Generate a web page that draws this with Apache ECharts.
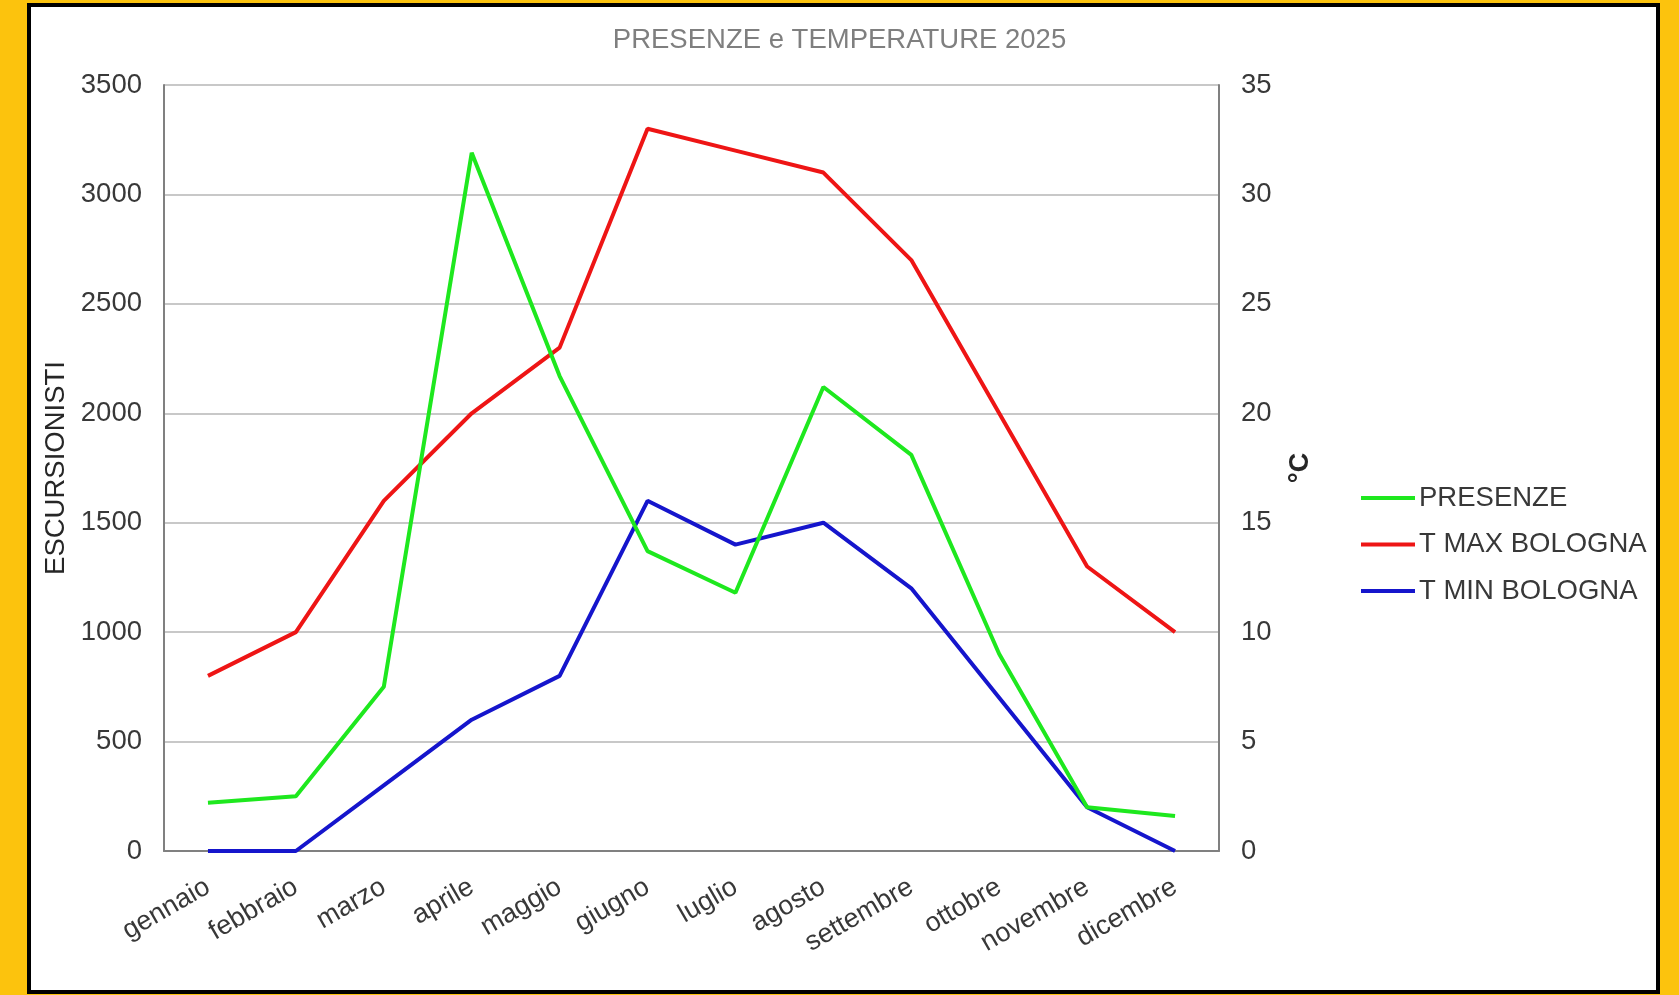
<!DOCTYPE html>
<html>
<head>
<meta charset="utf-8">
<script src="https://cdn.jsdelivr.net/npm/echarts@6/dist/echarts.min.js"></script>
<style>
  html, body { margin: 0; padding: 0; width: 1679px; height: 995px; overflow: hidden; background: #FCC30D; }
  #frame { position: absolute; left: 27px; top: 3px; width: 1625px; height: 983px; border: 4px solid #000; background: #fff; }
  #chart { position: absolute; left: 0; top: 0; width: 1679px; height: 995px; }
</style>
</head>
<body>
<div id="frame"></div>
<div id="chart"></div>
<script>
const titleText = 'PRESENZE e TEMPERATURE 2025';
const months = ['gennaio','febbraio','marzo','aprile','maggio','giugno','luglio','agosto','settembre','ottobre','novembre','dicembre'];
const presenze = [220, 250, 750, 3190, 2170, 1370, 1180, 2120, 1810, 900, 200, 160];
const tMax = [8, 10, 16, 20, 23, 33, 32, 31, 27, 20, 13, 10];
const tMin = [0, 0, 3, 6, 8, 16, 14, 15, 12, 7, 2, 0];
const seriesNames = ['PRESENZE', 'T MAX BOLOGNA', 'T MIN BOLOGNA'];
const leftAxisName = 'ESCURSIONISTI';
const rightAxisName = '°C';

const FONT = '"Liberation Sans", Arial, sans-serif';
const chart = echarts.init(document.getElementById('chart'), null, { renderer: 'canvas' });

const axisLine = { show: true, lineStyle: { color: '#808080', width: 2 } };
const gridLine = { show: true, lineStyle: { color: '#c8c8c8', width: 2 } };
const plain = v => String(v);

chart.setOption({
  animation: false,
  backgroundColor: 'transparent',
  textStyle: { fontFamily: FONT },
  title: {
    text: titleText,
    left: 'center',
    top: 21,
    textStyle: { fontFamily: FONT, fontSize: 27.5, fontWeight: 'normal', color: '#7f7f7f' }
  },
  legend: {
    orient: 'vertical',
    left: 1356,
    top: 479,
    itemWidth: 54,
    itemHeight: 4,
    itemGap: 18.5,
    icon: 'rect',
    data: seriesNames,
    textStyle: { fontFamily: FONT, fontSize: 27.5, color: '#383838', padding: [0, 0, 0, -1], lineHeight: 27 }
  },
  grid: { left: 164, right: 460, top: 85, bottom: 144, containLabel: false },
  xAxis: {
    type: 'category',
    data: months,
    boundaryGap: true,
    axisLine: axisLine,
    axisTick: { show: false },
    splitLine: { show: false },
    axisLabel: { rotate: 30, margin: 34, fontFamily: FONT, fontSize: 27, color: '#383838', interval: 0 }
  },
  yAxis: [
    {
      type: 'value',
      min: 0, max: 3500, interval: 500,
      position: 'left',
      name: leftAxisName,
      nameLocation: 'middle',
      nameRotate: 90,
      nameGap: 90,
      nameTextStyle: { fontFamily: FONT, fontSize: 27.5, color: '#262626' },
      axisLine: axisLine,
      axisTick: { show: false },
      splitLine: gridLine,
      axisLabel: { margin: 22, fontFamily: FONT, fontSize: 27.5, color: '#383838', formatter: plain }
    },
    {
      type: 'value',
      min: 0, max: 35, interval: 5,
      position: 'right',
      name: rightAxisName,
      nameLocation: 'middle',
      nameRotate: 90,
      nameGap: 68,
      nameTextStyle: { fontFamily: FONT, fontSize: 27, fontWeight: 'bold', color: '#262626' },
      axisLine: axisLine,
      axisTick: { show: false },
      splitLine: { show: false },
      axisLabel: { margin: 22, fontFamily: FONT, fontSize: 27.5, color: '#383838', formatter: plain }
    }
  ],
  series: [
    {
      name: seriesNames[0], type: 'line', yAxisIndex: 0, data: presenze,
      symbol: 'none', lineStyle: { color: '#1EE81E', width: 4 }, itemStyle: { color: '#1EE81E' }, z: 3
    },
    {
      name: seriesNames[1], type: 'line', yAxisIndex: 1, data: tMax,
      symbol: 'none', lineStyle: { color: '#EE1515', width: 4 }, itemStyle: { color: '#EE1515' }, z: 2
    },
    {
      name: seriesNames[2], type: 'line', yAxisIndex: 1, data: tMin,
      symbol: 'none', lineStyle: { color: '#1515CC', width: 4 }, itemStyle: { color: '#1515CC' }, z: 1
    }
  ]
});
</script>
</body>
</html>
